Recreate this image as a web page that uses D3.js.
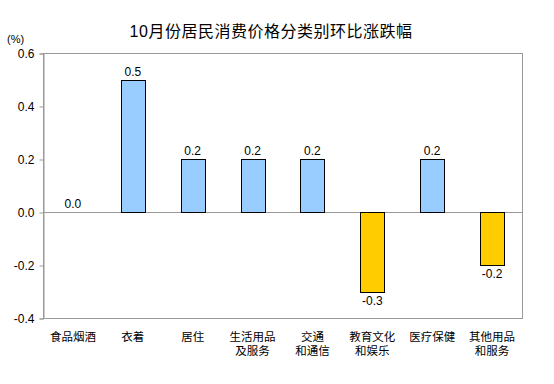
<!DOCTYPE html>
<html>
<head>
<meta charset="utf-8">
<script src="https://cdn.jsdelivr.net/npm/d3@7"></script>
<style>
  body { margin: 0; background: #fff; }
  text { font-family: Arial, "Liberation Sans", "Noto Sans CJK SC", sans-serif; }
</style>
</head>
<body>
<div id="chart"></div>
<script>
const categories = ["食品烟酒", "衣着", "居住", "生活用品\n及服务", "交通\n和通信", "教育文化\n和娱乐", "医疗保健", "其他用品\n和服务"];
const values = [0.0, 0.5, 0.2, 0.2, 0.2, -0.3, 0.2, -0.2];
const yTicks = [0.6, 0.4, 0.2, 0.0, -0.2, -0.4];

const width = 554, height = 384;
const margin = {top: 53, right: 32, bottom: 66, left: 43};
const UpColor = '#99ccff';
const DownColor = '#ffcc00';
const AxisColor = '#999999';

const svg = d3.select("#chart").append("svg")
    .attr("width", width)
    .attr("height", height);

const x = d3.scaleBand()
    .domain(categories)
    .range([margin.left, width - margin.right])
    .paddingInner(0.6)
    .paddingOuter(0.3);

const y = d3.scaleLinear()
    .domain([-0.4, 0.6])
    .range([height - margin.bottom, margin.top]);

// title
svg.append("text")
    .attr("x", 271)
    .attr("y", 37)
    .attr("text-anchor", "middle")
    .style("font-size", "16px")
    .style("letter-spacing", "0.5px")
    .text("10月份居民消费价格分类别环比涨跌幅");

svg.append("text")
    .attr("x", 7)
    .attr("y", 43)
    .style("font-size", "11px")
    .text("(%)");

// frame
svg.append("rect")
    .attr("x", margin.left + 0.5)
    .attr("y", margin.top + 0.5)
    .attr("width", width - margin.right - margin.left)
    .attr("height", height - margin.bottom - margin.top)
    .attr("fill", "none")
    .attr("stroke", AxisColor);

// y axis
const yAxis = svg.append("g")
    .attr("transform", `translate(${margin.left + 0.5},0.5)`)
    .call(d3.axisLeft(y).tickValues(yTicks).tickFormat(d3.format(".1f")).tickSize(4).tickPadding(5));
yAxis.select(".domain").attr("stroke", AxisColor);
yAxis.selectAll(".tick line").attr("stroke", AxisColor);
yAxis.selectAll(".tick text")
    .style("font-size", "12px")
    .attr("fill", "#000")
    .text(d => d3.format(".1f")(d).replace("−", "-"));

// zero line
svg.append("line")
    .attr("x1", margin.left)
    .attr("x2", width - margin.right)
    .attr("y1", Math.round(y(0)) + 0.5)
    .attr("y2", Math.round(y(0)) + 0.5)
    .attr("stroke", AxisColor);

// bars
const bars = svg.append("g")
    .selectAll("rect")
    .data(values.map((v, i) => ({cat: categories[i], v: v})).filter(d => d.v !== 0))
    .join("rect")
    .attr("x", d => Math.round(x(d.cat)) + 0.5)
    .attr("y", d => Math.round(y(Math.max(0, d.v))) + 0.5)
    .attr("width", Math.round(x.bandwidth()))
    .attr("height", d => Math.abs(Math.round(y(d.v)) - Math.round(y(0))))
    .attr("fill", d => d.v > 0 ? UpColor : DownColor)
    .attr("stroke", "#000")
    .attr("stroke-width", 1);

// value labels
svg.append("g")
    .selectAll("text")
    .data(values.map((v, i) => ({cat: categories[i], v: v})))
    .join("text")
    .attr("x", d => x(d.cat) + x.bandwidth() / 2)
    .attr("y", d => d.v >= 0 ? y(d.v) - 4 : y(d.v) + 13)
    .attr("text-anchor", "middle")
    .style("font-size", "12px")
    .text(d => d.v.toFixed(1));

// category labels
const labels = svg.append("g")
    .selectAll("text")
    .data(categories)
    .join("text")
    .attr("x", d => x(d) + x.bandwidth() / 2)
    .attr("y", 341)
    .attr("text-anchor", "middle")
    .style("font-size", "11.5px");

labels.selectAll("tspan")
    .data(d => d.split("\n").map(s => ({s: s, x: x(d) + x.bandwidth() / 2})))
    .join("tspan")
    .attr("x", d => d.x)
    .attr("dy", (d, i) => i === 0 ? 0 : 14)
    .text(d => d.s);
</script>
</body>
</html>
